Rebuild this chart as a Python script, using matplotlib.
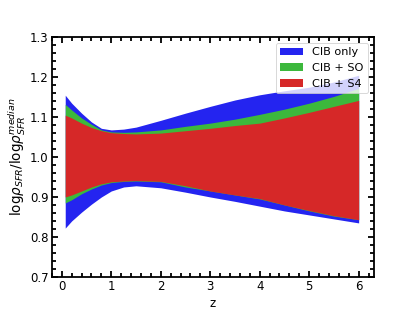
import numpy as np
import matplotlib
matplotlib.use("Agg")
import matplotlib.pyplot as plt
from matplotlib.ticker import MultipleLocator

# redshift grid and band edges
z = np.array([0.07, 0.2, 0.4, 0.6, 0.8, 1.0, 1.25, 1.5, 2.0, 2.5, 3.0, 3.5, 4.0, 4.5, 5.0, 5.5, 6.0])
blue_hi = np.array([1.155, 1.135, 1.110, 1.088, 1.072, 1.068, 1.070, 1.075, 1.092, 1.110, 1.127, 1.143, 1.156, 1.166, 1.175, 1.188, 1.205])
blue_lo = np.array([0.822, 0.840, 0.862, 0.882, 0.900, 0.915, 0.925, 0.928, 0.923, 0.912, 0.900, 0.889, 0.877, 0.865, 0.855, 0.845, 0.835])
green_hi = np.array([1.132, 1.118, 1.098, 1.082, 1.068, 1.063, 1.062, 1.063, 1.068, 1.077, 1.085, 1.095, 1.107, 1.120, 1.135, 1.152, 1.172])
green_lo = np.array([0.885, 0.893, 0.908, 0.920, 0.930, 0.936, 0.939, 0.940, 0.938, 0.925, 0.915, 0.905, 0.895, 0.880, 0.865, 0.852, 0.843])
red_hi = np.array([1.105, 1.098, 1.085, 1.074, 1.066, 1.061, 1.059, 1.058, 1.060, 1.066, 1.072, 1.079, 1.085, 1.098, 1.112, 1.127, 1.142])
red_lo = np.array([0.900, 0.905, 0.915, 0.925, 0.933, 0.938, 0.940, 0.941, 0.939, 0.928, 0.915, 0.905, 0.896, 0.880, 0.866, 0.853, 0.843])

labels = ["CIB only", "CIB + SO", "CIB + S4"]

plt.rcParams["font.size"] = 12.5
fig, ax = plt.subplots(figsize=(415 / 65, 311 / 65), dpi=65)
ax.fill_between(z, blue_lo, blue_hi, color="#2424f0", lw=0, label=labels[0])
ax.fill_between(z, green_lo, green_hi, color="#3cb83c", lw=0, label=labels[1])
ax.fill_between(z, red_lo, red_hi, color="#d62828", lw=0, label=labels[2])

ax.set_xlim(-0.2, 6.3)
ax.set_ylim(0.7, 1.3)
ax.xaxis.set_major_locator(MultipleLocator(1))
ax.xaxis.set_minor_locator(MultipleLocator(0.2))
ax.yaxis.set_major_locator(MultipleLocator(0.1))
ax.yaxis.set_minor_locator(MultipleLocator(0.02))
ax.tick_params(which="both", direction="in", top=True, right=True, width=2, labelsize=13)
ax.tick_params(which="major", length=7)
ax.tick_params(which="minor", length=4)
for s in ax.spines.values():
    s.set_linewidth(2)

ax.set_xlabel("z", fontsize=13)
ax.set_ylabel(r"log$\rho_{SFR}$/log$\rho_{SFR}^{median}$", fontsize=15, labelpad=2)
ax.legend(loc="upper right", fontsize=12.5)

fig.savefig("out.png", dpi=65)
